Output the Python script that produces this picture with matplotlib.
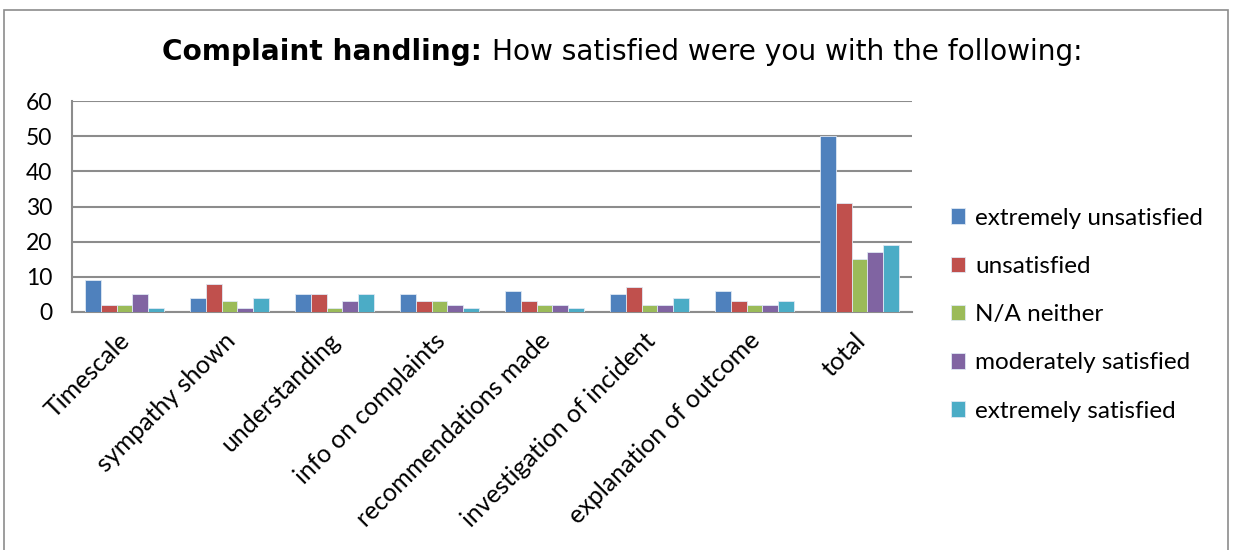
import matplotlib
matplotlib.use("Agg")
import matplotlib.pyplot as plt
import numpy as np
from matplotlib.patches import Rectangle

categories = ["Timescale", "sympathy shown", "understanding", "info on complaints",
              "recommendations made", "investigation of incident",
              "explanation of outcome", "total"]
series_names = ["extremely unsatisfied", "unsatisfied", "N/A neither",
                "moderately satisfied", "extremely satisfied"]
extremely_unsatisfied = [9, 4, 5, 5, 6, 5, 6, 50]
unsatisfied = [2, 8, 5, 3, 3, 7, 3, 31]
na_neither = [2, 3, 1, 3, 2, 2, 2, 15]
moderately_satisfied = [5, 1, 3, 2, 2, 2, 2, 17]
extremely_satisfied = [1, 4, 5, 1, 1, 4, 3, 19]
yticks = [0, 10, 20, 30, 40, 50, 60]

series = [extremely_unsatisfied, unsatisfied, na_neither, moderately_satisfied, extremely_satisfied]
colors = ["#4F81BD", "#C0504D", "#9BBB59", "#8064A2", "#4BACC6"]

plt.rcParams['font.family'] = ['Lato', 'DejaVu Sans']

fig = plt.figure(figsize=(12.33, 5.5), dpi=100)
W, H = 1233, 550
ax = fig.add_axes([72 / W, 1 - 312 / H, (912 - 72) / W, (312 - 101) / H])

# outer chart border
fig.patches.append(Rectangle((4 / W, -0.1), (1228 - 4) / W, 1 - 10 / H + 0.1,
                             transform=fig.transFigure, fill=False,
                             edgecolor="#8c8c8c", linewidth=1.2))

x = np.arange(len(categories))
bw = 0.152
for i, (vals, c, name) in enumerate(zip(series, colors, series_names)):
    ax.bar(x + (i - 2) * bw, vals, width=bw, color=c, edgecolor="#dfe8f3",
           linewidth=0.6, label=name, zorder=3)

ax.set_xlim(-0.5, len(categories) - 0.5)
ax.set_ylim(0, 60)
ax.set_yticks(yticks)
ax.set_yticklabels([str(t) for t in yticks], fontsize=16.5)
ax.yaxis.grid(True, color="#8c8c8c", linewidth=1.5, zorder=0)
ax.tick_params(axis='y', length=0, pad=14)
ax.tick_params(axis='x', length=0, pad=12)
ax.set_xticks(x - 0.06)
ax.set_xticklabels(categories, rotation=45, ha='right', va='top',
                   rotation_mode='anchor', fontsize=18)
for s in ["top", "right"]:
    ax.spines[s].set_visible(False)
ax.spines["left"].set_color("#8c8c8c")
ax.spines["bottom"].set_color("#8c8c8c")
ax.spines["left"].set_linewidth(1.5)
ax.spines["bottom"].set_linewidth(1.5)

# title with bold prefix, fitted to span ~160..1085 px
tfam = ['DejaVu Sans']
tfs = 18
fig.canvas.draw()
r = fig.canvas.get_renderer()
ta = fig.text(0, 0, "Complaint handling: ", fontsize=tfs, fontweight='bold', family=tfam)
tb = fig.text(0, 0, "How satisfied were you with the following:", fontsize=tfs, family=tfam)
wa = ta.get_window_extent(r).width
wb = tb.get_window_extent(r).width
scale = 925.0 / (wa + wb)
tfs *= scale
ta.set_fontsize(tfs)
tb.set_fontsize(tfs)
wa = ta.get_window_extent(r).width
wb = tb.get_window_extent(r).width
x0 = 622 - (wa + wb) / 2
ta.set_position((x0 / W, 1 - 52 / H)); ta.set_va('center')
tb.set_position(((x0 + wa) / W, 1 - 52 / H)); tb.set_va('center')

leg = fig.legend(loc='upper left', bbox_to_anchor=(941 / W, 1 - 198 / H),
                 frameon=False, fontsize=17.5, handlelength=0.6, handleheight=0.6,
                 labelspacing=1.12, handletextpad=0.4, borderaxespad=0)

fig.savefig("out.png", dpi=100)
